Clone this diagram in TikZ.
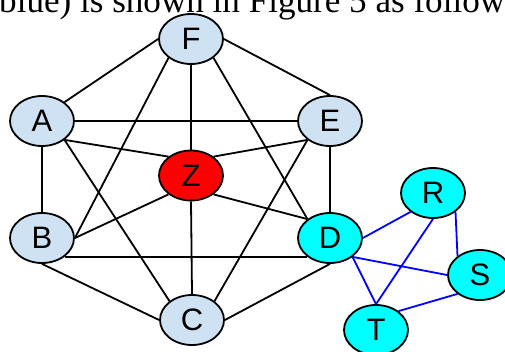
\documentclass[tikz,border=0pt]{standalone}
\usepackage{fontspec}
\setmainfont{Liberation Sans}
\newfontfamily\captionserif{Liberation Serif}
\usetikzlibrary{shapes.geometric}
\definecolor{lightblue}{RGB}{207,226,243}
\definecolor{aqua}{RGB}{0,255,255}
\definecolor{pureblue}{RGB}{0,0,255}
\definecolor{purered}{RGB}{255,0,0}
\begin{document}
\begin{tikzpicture}[x=1pt,y=-1pt,
  nd/.style={ellipse,draw=black,line width=1.8pt,minimum width=64pt,minimum height=50pt,inner sep=0pt,font=\fontsize{31}{31}\selectfont},
  lb/.style={nd,fill=lightblue},
  cy/.style={nd,fill=aqua},
  rd/.style={nd,fill=purered},
  bk/.style={draw=black,line width=1.8pt},
  bl/.style={draw=pureblue,line width=1.8pt}]
\useasboundingbox (0,0) rectangle (505,351);
\clip (0,0) rectangle (505,351);
\node[anchor=base west,inner sep=0pt,font=\captionserif\fontsize{35.1}{35.1}\selectfont] (cap) at (-1,12) {blue) is shown in Figure 5 as follows};
\node[lb] (F) at (191,39) {F};
\node[lb] (A) at (42,121) {A};
\node[lb] (B) at (42,238) {B};
\node[lb] (C) at (192,320) {C};
\node[cy] (D) at (330,238) {D};
\node[lb] (E) at (330,121) {E};
\node[rd] (Z) at (191,175.5) {Z};
\node[cy] (R) at (433,193) {R};
\node[cy] (S) at (480,275) {S};
\node[cy] (T) at (376,330) {T};
% black edges
\draw[bk] (F.west) -- (A.40);
\draw[bk] (F.east) -- (E.north);
\draw[bk] (F.south) -- (Z.north);
\draw[bk] (F.-140) -- (B.east);
\draw[bk] (F.-40) -- (D.140);
\draw[bk] (A.east) -- (E.west);
\draw[bk] (A.-40) -- (Z.140);
\draw[bk] (A.-40) -- (C.140);
\draw[bk] (A.south) -- (B.north);
\draw[bk] (E.-140) -- (Z.40);
\draw[bk] (E.-140) -- (C.40);
\draw[bk] (E.south) -- (D.north);
\draw[bk] (Z.-140) -- (B.east);
\draw[bk] (Z.-40) -- (D.140);
\draw[bk] (Z.south) -- (C.north);
\draw[bk] (B.-40) -- (D.-140);
\draw[bk] (B.south) -- (C.west);
\draw[bk] (D.south) -- (C.east);
% blue edges
\draw[bl] (D.east) -- (R.-140);
\draw[bl] (R.south) -- (T.north);
\draw[bl] (R.-40) -- (S.140);
\draw[bl] (D.-40) -- (S.west);
\draw[bl] (D.-40) -- (T.north);
\draw[bl] (S.-140) -- (T.40);
\end{tikzpicture}
\end{document}
